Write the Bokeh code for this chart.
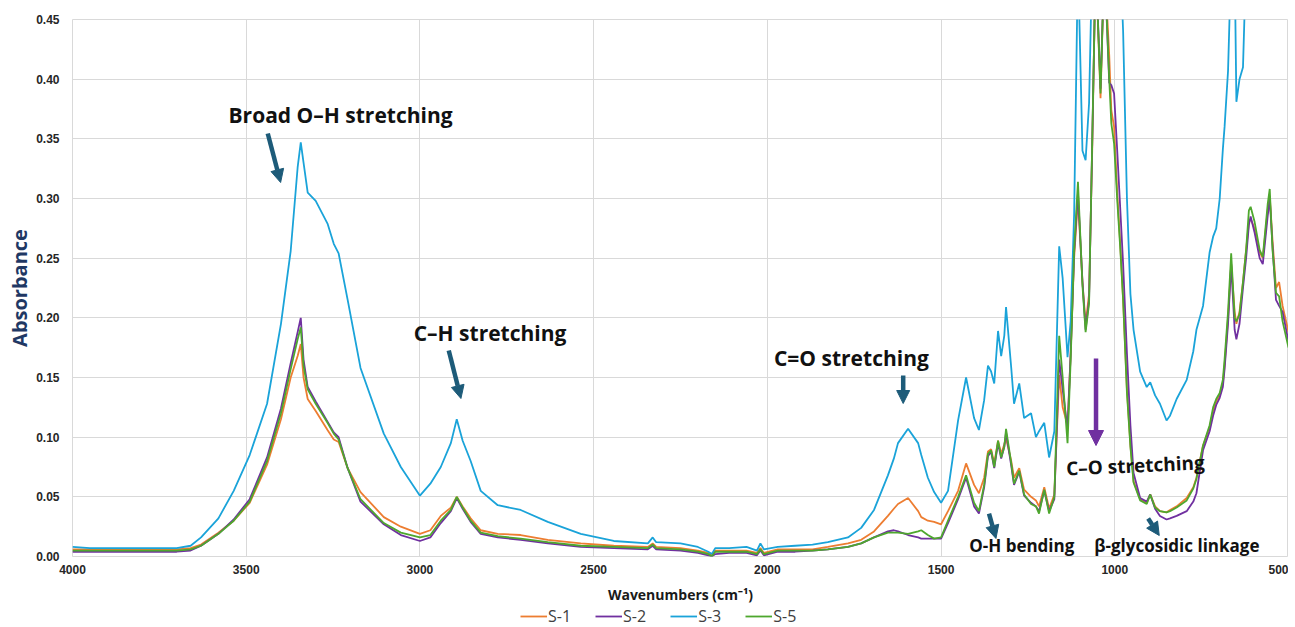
from bokeh.plotting import figure
from bokeh.layouts import column
from bokeh.models import (Range1d, FixedTicker, NumeralTickFormatter, Legend, LegendItem,
                          Arrow, NormalHead, Label)
from bokeh.embed import file_html
from bokeh.resources import INLINE

# ---------------- data ----------------
wavenumber = [4000, 3950, 3900, 3800, 3700, 3660, 3630, 3580, 3536, 3490, 3440, 3400, 3372, 3352, 3343,
              3335, 3323, 3300, 3266, 3248, 3234, 3208, 3171, 3104, 3055, 3000, 2970, 2940, 2911, 2894,
              2877, 2854, 2825, 2776, 2710, 2632, 2537, 2442, 2344, 2330, 2320, 2250, 2200, 2170, 2160,
              2150, 2110, 2060, 2030, 2020, 2010, 1970, 1920, 1870, 1826, 1768, 1730, 1693, 1653, 1636,
              1624, 1595, 1566, 1557, 1538, 1520, 1500, 1480, 1451, 1428, 1405, 1391, 1376, 1365, 1356,
              1347, 1336, 1327, 1318, 1313, 1298, 1290, 1275, 1261, 1241, 1227, 1218, 1203, 1189, 1174,
              1160, 1150, 1136, 1127, 1117, 1106, 1093, 1084, 1074, 1065, 1055, 1041, 1030, 1016, 1010,
              1002, 993, 984, 976, 965, 955, 946, 927, 908, 898, 884, 870, 851, 841, 822,
              793, 774, 765, 746, 727, 717, 708, 698, 689, 684, 674, 665, 655, 650, 641,
              631, 622, 614, 609, 598, 583, 574, 560, 554, 546, 536, 527, 517, 500]

s1 = [0.006, 0.006, 0.006, 0.006, 0.006, 0.007, 0.010, 0.020, 0.030, 0.045, 0.077, 0.115, 0.150, 0.168, 0.178,
      0.150, 0.132, 0.122, 0.106, 0.098, 0.096, 0.074, 0.054, 0.033, 0.025, 0.019, 0.022, 0.034, 0.041, 0.050,
      0.042, 0.032, 0.022, 0.019, 0.018, 0.014, 0.011, 0.009, 0.008, 0.011, 0.008, 0.007, 0.005, 0.003, 0.001,
      0.005, 0.005, 0.005, 0.003, 0.007, 0.003, 0.006, 0.006, 0.006, 0.008, 0.011, 0.014, 0.021, 0.034, 0.040,
      0.044, 0.049, 0.038, 0.033, 0.030, 0.029, 0.027, 0.038, 0.055, 0.078, 0.060, 0.053, 0.066, 0.088, 0.090,
      0.078, 0.097, 0.086, 0.094, 0.099, 0.080, 0.066, 0.074, 0.056, 0.050, 0.047, 0.042, 0.058, 0.040, 0.052,
      0.152, 0.125, 0.110, 0.170, 0.250, 0.300, 0.230, 0.195, 0.220, 0.340, 0.500, 0.384, 0.500, 0.420, 0.374,
      0.360, 0.305, 0.260, 0.215, 0.140, 0.093, 0.063, 0.048, 0.045, 0.052, 0.042, 0.038, 0.037, 0.039, 0.042,
      0.049, 0.058, 0.066, 0.093, 0.108, 0.122, 0.130, 0.135, 0.145, 0.160, 0.200, 0.245, 0.205, 0.195, 0.205,
      0.230, 0.257, 0.280, 0.283, 0.275, 0.255, 0.250, 0.290, 0.302, 0.265, 0.225, 0.230, 0.210, 0.188]

s2 = [0.004, 0.004, 0.004, 0.004, 0.004, 0.005, 0.009, 0.019, 0.031, 0.048, 0.083, 0.124, 0.162, 0.188, 0.200,
      0.165, 0.142, 0.130, 0.113, 0.104, 0.100, 0.074, 0.046, 0.027, 0.018, 0.013, 0.016, 0.028, 0.038, 0.049,
      0.040, 0.029, 0.019, 0.016, 0.014, 0.011, 0.008, 0.007, 0.006, 0.009, 0.006, 0.005, 0.003, 0.001, 0.000,
      0.002, 0.003, 0.003, 0.001, 0.005, 0.001, 0.004, 0.004, 0.005, 0.006, 0.008, 0.011, 0.016, 0.021, 0.022,
      0.021, 0.018, 0.016, 0.015, 0.015, 0.015, 0.015, 0.028, 0.048, 0.066, 0.042, 0.036, 0.058, 0.084, 0.088,
      0.074, 0.095, 0.082, 0.092, 0.104, 0.076, 0.060, 0.071, 0.051, 0.045, 0.042, 0.038, 0.055, 0.038, 0.048,
      0.165, 0.140, 0.107, 0.170, 0.255, 0.305, 0.230, 0.190, 0.215, 0.345, 0.500, 0.392, 0.500, 0.397, 0.395,
      0.388, 0.340, 0.290, 0.245, 0.170, 0.110, 0.070, 0.049, 0.046, 0.052, 0.040, 0.034, 0.031, 0.032, 0.034,
      0.038, 0.046, 0.053, 0.089, 0.105, 0.118, 0.127, 0.133, 0.142, 0.157, 0.195, 0.245, 0.190, 0.182, 0.195,
      0.225, 0.250, 0.278, 0.285, 0.272, 0.250, 0.245, 0.285, 0.300, 0.260, 0.215, 0.210, 0.205, 0.180]

s3 = [0.008, 0.007, 0.007, 0.007, 0.007, 0.009, 0.016, 0.032, 0.055, 0.085, 0.128, 0.195, 0.256, 0.326, 0.347,
      0.330, 0.305, 0.298, 0.279, 0.262, 0.254, 0.215, 0.158, 0.103, 0.075, 0.051, 0.061, 0.075, 0.095, 0.115,
      0.097, 0.080, 0.055, 0.043, 0.039, 0.029, 0.019, 0.013, 0.011, 0.016, 0.012, 0.011, 0.008, 0.004, 0.002,
      0.007, 0.007, 0.008, 0.005, 0.011, 0.006, 0.008, 0.009, 0.010, 0.012, 0.016, 0.024, 0.039, 0.068, 0.082,
      0.095, 0.107, 0.095, 0.085, 0.066, 0.054, 0.045, 0.055, 0.114, 0.150, 0.116, 0.106, 0.131, 0.160, 0.155,
      0.145, 0.189, 0.168, 0.185, 0.209, 0.158, 0.128, 0.145, 0.116, 0.120, 0.100, 0.105, 0.112, 0.083, 0.105,
      0.260, 0.233, 0.167, 0.197, 0.287, 0.500, 0.340, 0.332, 0.380, 0.500, 0.500, 0.500, 0.500, 0.500, 0.500,
      0.500, 0.500, 0.500, 0.440, 0.300, 0.220, 0.190, 0.155, 0.142, 0.146, 0.135, 0.128, 0.114, 0.118, 0.132,
      0.148, 0.172, 0.190, 0.210, 0.255, 0.268, 0.275, 0.300, 0.341, 0.360, 0.407, 0.500, 0.500, 0.381, 0.400,
      0.410, 0.500, 0.500, 0.500, 0.500, 0.500, 0.500, 0.500, 0.500, 0.500, 0.500, 0.500, 0.500, 0.500]

s5 = [0.005, 0.005, 0.005, 0.005, 0.005, 0.006, 0.009, 0.019, 0.030, 0.046, 0.080, 0.120, 0.157, 0.182, 0.192,
      0.160, 0.140, 0.128, 0.112, 0.103, 0.098, 0.074, 0.048, 0.028, 0.020, 0.016, 0.018, 0.030, 0.039, 0.050,
      0.041, 0.030, 0.020, 0.017, 0.015, 0.012, 0.009, 0.008, 0.007, 0.010, 0.007, 0.006, 0.004, 0.002, 0.000,
      0.004, 0.004, 0.004, 0.002, 0.006, 0.002, 0.005, 0.005, 0.005, 0.006, 0.008, 0.011, 0.016, 0.020, 0.020,
      0.020, 0.019, 0.021, 0.022, 0.018, 0.015, 0.016, 0.030, 0.050, 0.068, 0.045, 0.038, 0.060, 0.086, 0.089,
      0.075, 0.097, 0.083, 0.092, 0.107, 0.078, 0.061, 0.072, 0.052, 0.044, 0.042, 0.036, 0.056, 0.036, 0.050,
      0.185, 0.150, 0.095, 0.165, 0.257, 0.314, 0.227, 0.188, 0.212, 0.347, 0.500, 0.388, 0.500, 0.400, 0.363,
      0.346, 0.299, 0.257, 0.215, 0.137, 0.092, 0.062, 0.047, 0.044, 0.052, 0.041, 0.038, 0.037, 0.038, 0.041,
      0.047, 0.057, 0.065, 0.093, 0.110, 0.125, 0.132, 0.137, 0.148, 0.165, 0.205, 0.254, 0.200, 0.197, 0.203,
      0.230, 0.257, 0.290, 0.293, 0.281, 0.257, 0.251, 0.295, 0.308, 0.257, 0.221, 0.218, 0.197, 0.175]

series_names = ["S-1", "S-2", "S-3", "S-5"]
series_colors = ["#ED7D31", "#7030A0", "#1AA3D9", "#4EA72E"]
x_ticks = [4000, 3500, 3000, 2500, 2000, 1500, 1000, 500]
y_ticks = [0.0, 0.05, 0.10, 0.15, 0.20, 0.25, 0.30, 0.35, 0.40, 0.45]

for arr in (s1, s2, s3, s5):
    assert len(arr) == len(wavenumber), len(arr)

# ---------------- main figure ----------------
p = figure(width=1288, height=609, output_backend="svg", toolbar_location=None,
           x_range=Range1d(4000, 500), y_range=Range1d(0, 0.45),
           min_border_left=72, min_border_right=0, min_border_top=19, min_border_bottom=53)

p.outline_line_color = "#d9d9d9"
p.background_fill_color = "white"
p.border_fill_color = "white"

p.xgrid.grid_line_color = "#d9d9d9"
p.ygrid.grid_line_color = "#d9d9d9"

p.xaxis.ticker = FixedTicker(ticks=x_ticks)
p.yaxis.ticker = FixedTicker(ticks=y_ticks)
p.yaxis.formatter = NumeralTickFormatter(format="0.00")

for ax in (p.xaxis[0], p.yaxis[0]):
    ax.axis_line_color = None
    ax.major_tick_line_color = None
    ax.minor_tick_line_color = None
    ax.major_tick_out = 0
    ax.major_tick_in = 0
    ax.major_label_text_font = "Liberation Sans"
    ax.major_label_text_font_style = "bold"
    ax.major_label_text_font_size = "12px"
    ax.major_label_text_color = "#262626"

p.yaxis.major_label_standoff = 13
p.yaxis.axis_label = "Absorbance"
p.yaxis.axis_label_text_font = "Open Sans"
p.yaxis.axis_label_text_font_style = "bold"
p.yaxis.axis_label_text_font_size = "20px"
p.yaxis.axis_label_text_color = "#1F3864"
p.yaxis.axis_label_standoff = 0

p.xaxis.major_label_standoff = 8
p.xaxis.axis_label = "Wavenumbers (cm\u207b\u00b9)"
p.xaxis.axis_label_text_font = "Open Sans"
p.xaxis.axis_label_text_font_style = "bold"
p.xaxis.axis_label_text_font_size = "14px"
p.xaxis.axis_label_text_color = "#1a1a1a"
p.xaxis.axis_label_standoff = 8

for name, ys, col in zip(series_names, [s1, s2, s3, s5], series_colors):
    p.line(wavenumber, ys, line_color=col, line_width=1.8)

# ---------------- annotations ----------------
teal = "#1D5B79"
purple = "#7030A0"

def add_label(x, y, text, size, angle=0.0):
    p.add_layout(Label(x=x, y=y, text=text, text_font="Open Sans", text_font_style="bold",
                       text_font_size=size, text_color="#111111", text_align="left",
                       text_baseline="middle", angle=angle))

def add_arrow(x0, y0, x1, y1, color, width=4.5, size=13):
    p.add_layout(Arrow(end=NormalHead(size=size, fill_color=color, line_color=color),
                       x_start=x0, y_start=y0, x_end=x1, y_end=y1,
                       line_color=color, line_width=width))

add_label(3551, 0.3696, "Broad O\u2013H stretching", "21px")
add_arrow(3438, 0.3545, 3401, 0.3134, teal)

add_label(3018, 0.187, "C\u2013H stretching", "21px")
add_arrow(2917, 0.1726, 2882, 0.1324, teal)

add_label(1981, 0.166, "C=O stretching", "21px")
add_arrow(1609, 0.1517, 1609, 0.1282, teal)

add_label(1419, 0.0088, "O-H bending", "17px")
add_arrow(1362, 0.036, 1342, 0.0151, teal)

add_label(1140, 0.0737, "C\u2013O stretching", "19px", angle=0.045)
add_arrow(1054, 0.166, 1054, 0.093, purple, width=4.5, size=15)

add_label(1059, 0.0095, "\u03b2-glycosidic linkage", "17px")
add_arrow(904, 0.0318, 872, 0.0176, teal)

# ---------------- legend strip (key only; series lie outside its tiny frame) ----------------
lg = figure(width=1288, height=18, output_backend="svg", toolbar_location=None,
            x_range=Range1d(0, 1), y_range=Range1d(0, 1), x_axis_type=None, y_axis_type=None,
            min_border_left=0, min_border_right=0, min_border_top=0, min_border_bottom=0)
lg.outline_line_color = None
lg.grid.visible = False
key_renderers = [lg.line(wavenumber, ys, line_color=c, line_width=1.8)
                 for ys, c in zip([s1, s2, s3, s5], series_colors)]

legend = Legend(items=[LegendItem(label=n, renderers=[r]) for n, r in zip(series_names, key_renderers)],
                orientation="horizontal", location=(448, 0))
legend.label_text_font = "Open Sans"
legend.label_text_font_size = "16px"
legend.label_text_line_height = 1.0
legend.label_text_color = "#404040"
legend.glyph_width = 27
legend.glyph_height = 18
legend.label_height = 18
legend.label_standoff = 1
legend.spacing = 24
legend.padding = 0
legend.margin = 0
legend.border_line_color = None
legend.background_fill_alpha = 0
lg.add_layout(legend, "center")

layout = column(p, lg, spacing=0)
open("out.html", "w").write(file_html(layout, INLINE))
